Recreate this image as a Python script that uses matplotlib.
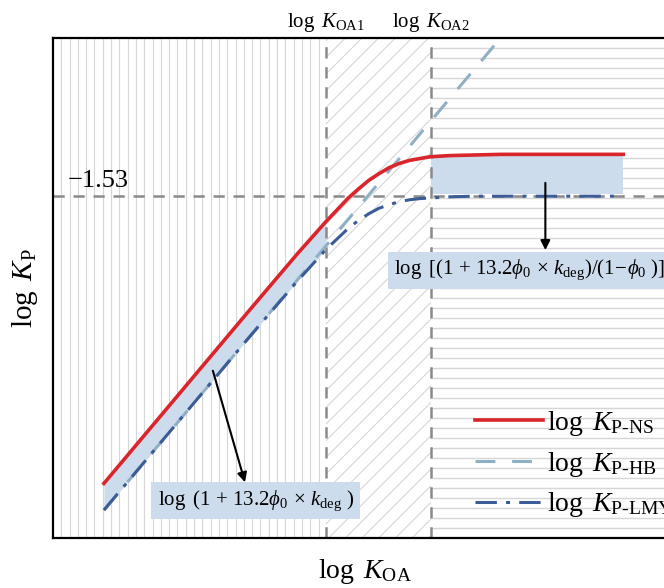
import matplotlib
matplotlib.use("Agg")
import matplotlib.pyplot as plt
import numpy as np

plt.rcParams["font.family"] = "Liberation Serif"
plt.rcParams["mathtext.fontset"] = "custom"
plt.rcParams["mathtext.rm"] = "Liberation Serif"
plt.rcParams["mathtext.it"] = "Liberation Serif:italic"
plt.rcParams["mathtext.bf"] = "Liberation Serif:bold"
plt.rcParams["hatch.linewidth"] = 0.8

# ── data ──
koa = [5.2, 6.0, 7.0, 8.0, 9.0, 9.56, 10.0, 10.2, 10.4, 10.6, 10.8,
       11.0, 11.2, 11.4, 11.6, 11.8, 12.0, 12.5, 13.0, 15.4]
kp_ns = [-6.27, -5.47, -4.47, -3.47, -2.48, -1.95, -1.56, -1.41, -1.27, -1.16, -1.06,
         -0.99, -0.94, -0.91, -0.88, -0.87, -0.86, -0.85, -0.84, -0.84]
kp_lmy = [-6.71, -5.91, -4.91, -3.91, -2.93, -2.41, -2.06, -1.93, -1.82, -1.73, -1.67,
          -1.62, -1.59, -1.57, -1.56, -1.55, -1.54, -1.53, -1.53, -1.53]
koa_hb = [5.2, 13.2]
kp_hb = [-6.71, 1.29]

koa1, koa2 = 9.56, 11.63
kp_sat = -1.53
box_x = [koa2, 15.4]
box_lo, box_hi = -1.49, -0.87

# ── colours ──
C_NS = "#d9252b"
C_HB = "#8fb0c4"
C_LMY = "#3b5c97"
C_FILL = "#cddcec"
C_GRID = "#d6d6d6"
C_REF = "#8a8a8a"

HY = "\u2010"  # hyphen inside subscripts


def kp_label(sub):
    return r"$\log\ K_{\mathrm{P" + HY + sub + r"}}$"


fig = plt.figure(figsize=(6.64, 5.88), dpi=100)
ax = fig.add_axes([53 / 664, 50 / 588, 611 / 664, 500 / 588])
x0, x1 = 4.2, 16.2
y0, y1 = -7.17, 1.08
ax.set_xlim(x0, x1)
ax.set_ylim(y0, y1)

# background regions
for xv in np.arange(x0 + 0.163, koa1 - 0.05, 0.163):
    ax.plot([xv, xv], [y0, y1], color=C_GRID, lw=0.8, zorder=0.5)
for yv in np.linspace(y0, y1, 51)[1:-1]:
    ax.plot([koa2, x1], [yv, yv], color=C_GRID, lw=1.0, zorder=0.5)
ax.axvspan(koa1, koa2, facecolor="none", edgecolor=C_GRID, hatch="//", lw=0, zorder=0.5)

# shaded differences
ax.fill_between(koa[:6], kp_lmy[:6], kp_ns[:6], color=C_FILL, lw=0, zorder=1)
ax.fill_between(box_x, box_lo, box_hi, color=C_FILL, lw=0, zorder=1)

# reference dashed lines
ax.axvline(koa1, color=C_REF, lw=1.8, dashes=(4.5, 3.5), zorder=2)
ax.axvline(koa2, color=C_REF, lw=1.8, dashes=(4.5, 3.5), zorder=2)
ax.axhline(kp_sat, color=C_REF, lw=1.8, dashes=(4.5, 3.5), zorder=2)

# curves
ax.plot(koa, kp_ns, color=C_NS, lw=2.6, zorder=4, label=kp_label("NS"))
ax.plot(koa_hb, kp_hb, color=C_HB, lw=2.2, dashes=(6.5, 5.5), zorder=3,
        label=kp_label("HB"))
ax.plot(koa, kp_lmy, color=C_LMY, lw=2.2, dashes=(7, 3, 1.3, 3), zorder=3,
        label=kp_label("LMY"))

# annotations
ax.text(8.18, -6.55, r"$\log\ (1\,+\,13.2\phi_0\,\times\,k_{\mathrm{deg}}\ )$",
        ha="center", va="center", fontsize=15, zorder=5,
        bbox=dict(boxstyle="square,pad=0.3", fc=C_FILL, ec="none"))
ax.text(10.9, -2.75,
        r"$\log\ [(1\,+\,13.2\phi_0\,\times\,k_{\mathrm{deg}})/(1\!-\!\phi_0\ )]$",
        ha="left", va="center", fontsize=15, zorder=5,
        bbox=dict(boxstyle="square,pad=0.3", fc=C_FILL, ec="none"))
ax.annotate("", xy=(7.97, -6.25), xytext=(7.34, -4.41),
            arrowprops=dict(arrowstyle="-|>", color="black", lw=1.5,
                            mutation_scale=14, shrinkA=0, shrinkB=0), zorder=6)
ax.annotate("", xy=(13.87, -2.42), xytext=(13.87, -1.31),
            arrowprops=dict(arrowstyle="-|>", color="black", lw=1.5,
                            mutation_scale=14, shrinkA=0, shrinkB=0), zorder=6)

ax.text(4.49, -1.28, "\u22121.53", ha="left", va="center", fontsize=19)
xt = ax.get_xaxis_transform()
ax.text(koa1, 1.032, r"$\log\ K_{\mathrm{OA1}}$", transform=xt,
        ha="center", va="center", fontsize=15)
ax.text(koa2, 1.032, r"$\log\ K_{\mathrm{OA2}}$", transform=xt,
        ha="center", va="center", fontsize=15)

ax.set_xlabel(r"$\log\ K_{\mathrm{OA}}$", fontsize=20, va="center")
ax.xaxis.set_label_coords(0.51, -0.068)
ax.set_ylabel(r"$\log\ K_{\mathrm{P}}$", fontsize=21, va="center")
ax.yaxis.set_label_coords(-0.046, 0.5)

ax.set_xticks([])
ax.set_yticks([])
for side in ["left", "top", "bottom"]:
    ax.spines[side].set_linewidth(1.6)
ax.spines["right"].set_visible(False)

ax.legend(loc="upper left", bbox_to_anchor=(0.69, 0.258), frameon=False,
          fontsize=20, handlelength=2.45, handletextpad=0.15, labelspacing=0.42,
          borderpad=0, borderaxespad=0)

plt.savefig("out.png", dpi=100, facecolor="white")
plt.close()
